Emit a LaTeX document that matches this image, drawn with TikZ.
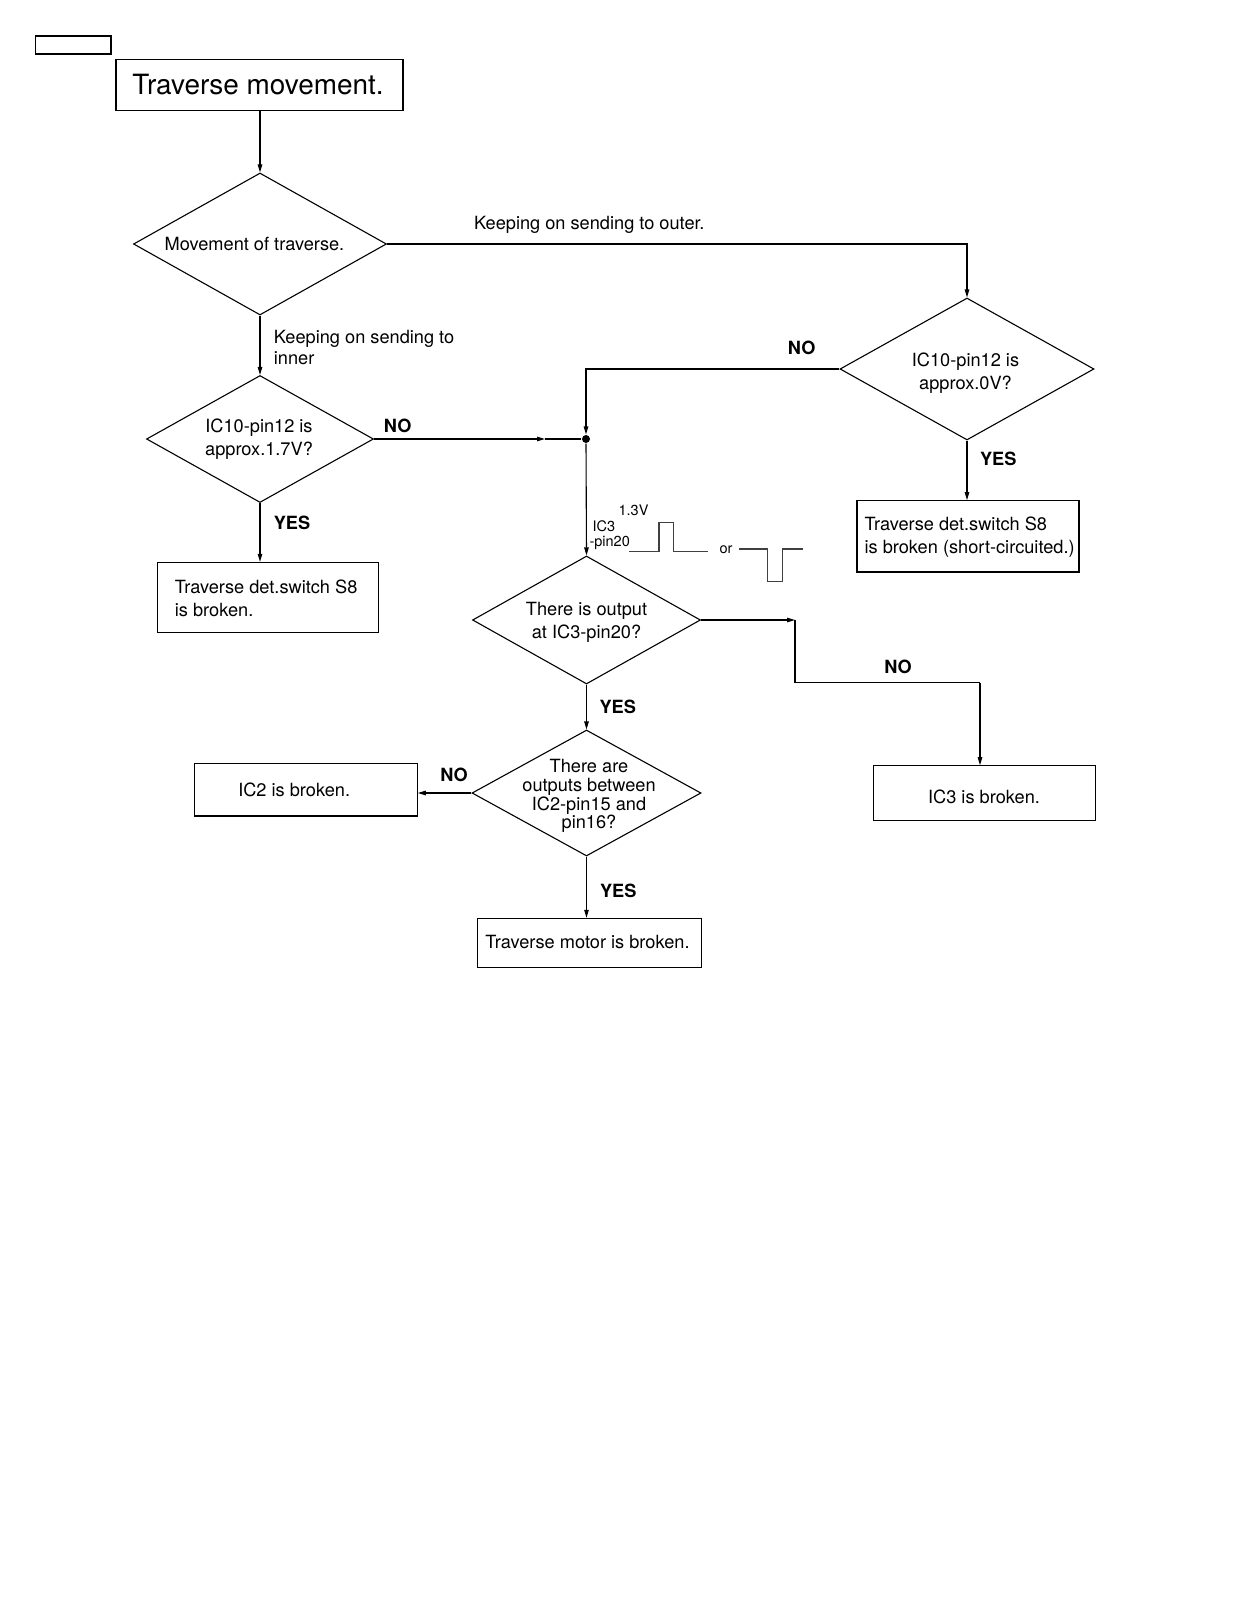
\documentclass[tikz,border=0pt]{standalone}
\usepackage{fontspec}
\setmainfont{TeX Gyre Heros}
\usetikzlibrary{arrows.meta,shapes.geometric}
\begin{document}
\begin{tikzpicture}[x=1pt,y=-1pt,line width=1.1pt,
  box/.style={draw, rectangle, inner sep=0pt},
  dia/.style={draw, diamond, inner sep=0pt, shape aspect=1},
  txt/.style={font=\fontsize{18.2}{22.8}\selectfont, inner sep=0pt, align=center},
  txtl/.style={font=\fontsize{18.2}{22.8}\selectfont, inner sep=0pt, align=left, anchor=west},
  yn/.style={font=\bfseries\fontsize{18.2}{22}\selectfont, inner sep=0pt},
  smalltxt/.style={font=\fontsize{14.5}{16}\selectfont, inner sep=0pt},
  arr/.style={-{Triangle[length=8pt,width=4.5pt]}},
  wave/.style={draw=black!75, line width=1.3pt}]
\fill[white] (0,0) rectangle (1251,1605);
\path[use as bounding box] (0,0) rectangle (1251,1605);

% tag and title
\node[box, line width=1.8pt, minimum width=75.5pt, minimum height=18pt] (tag) at (73.3,45) {};
\node[box, minimum width=287pt, minimum height=51pt] (title) at (259.5,85) {};
\node[font=\fontsize{27.9}{30}\selectfont, inner sep=0pt] (titletxt) at (258,85) {Traverse movement.};

% decisions
\node[dia, minimum width=253pt, minimum height=142pt] (d1) at (260,244) {};
\node[txt] (d1t) at (254.5,244) {Movement of traverse.};

\node[dia, minimum width=254pt, minimum height=142pt] (d2) at (967,369) {};
\node[txt] (d2t) at (965.5,373) {IC10-pin12 is\\approx.0V?};

\node[dia, minimum width=227pt, minimum height=127pt] (d3) at (260,439) {};
\node[txt] (d3t) at (259,439.5) {IC10-pin12 is\\approx.1.7V?};

\node[dia, minimum width=228pt, minimum height=128pt] (d4) at (586.5,620) {};
\node[txt] (d4t) at (586.5,622) {There is output\\at IC3-pin20?};

\node[dia, minimum width=229pt, minimum height=126pt] (d5) at (586.5,793) {};
\node[txt, font=\fontsize{18.2}{18.7}\selectfont] (d5t) at (589,796) {There are\\outputs between\\IC2-pin15 and\\pin16?};

% result boxes
\node[box, minimum width=221pt, minimum height=69.7pt] (s8l) at (267.8,597.2) {};
\node[txtl] (s8lt) at (174.3,598.3) {Traverse det.switch S8\\is broken.};

\node[box, minimum width=222pt, minimum height=71.3pt] (s8r) at (968,536.3) {};
\node[txtl] (s8rt) at (864,537.5) {Traverse det.switch S8\\is broken (short-circuited.)};

\node[box, minimum width=222.4pt, minimum height=54.3pt] (ic3) at (984.5,792.9) {};
\node[txt] (ic3t) at (984,796.7) {IC3 is broken.};

\node[box, minimum width=222.4pt, minimum height=52.4pt] (ic2) at (306,789.8) {};
\node[txt] (ic2t) at (294.2,789.5) {IC2 is broken.};

\node[box, minimum width=223.3pt, minimum height=49.3pt] (motor) at (589.4,943) {};
\node[txt] (motort) at (587.5,941.5) {Traverse motor is broken.};

% junction
\node[circle, fill, inner sep=0pt, minimum size=8pt] (jn) at (586,439) {};
\coordinate (noarr) at (545,439);
\coordinate (c4a) at (795,620);
\coordinate (c4b) at (980,682.7);

% connectors
\draw[arr] (d1.north |- title.south) -- (d1.north);
\draw[arr] (d1.east) -| (d2.north);
\draw[arr] (d1.south) -- (d3.north);
\draw[arr] (d2.west) -| (jn.north);
\draw[arr] (d3.east) -- (noarr);
\draw (noarr) -- (jn.west);
\draw[arr] (jn.south) -- (d4.north);
\draw[arr] (d2.south) -- (d2.south |- s8r.north);
\draw[arr] (d3.south) -- (d3.south |- s8l.north);
\draw[arr] (d4.east) -- (c4a);
\draw (c4a) |- (c4b);
\draw[arr] (c4b) -- (c4b |- ic3.north);
\draw[arr] (d4.south) -- (d5.north);
\draw[arr] (d5.west) -- (d5.west -| ic2.east);
\draw[arr] (d5.south) -- (d5.south |- motor.north);

% connector labels
\node[txtl] (lblout) at (473.5,224.5) {Keeping on sending to outer.};
\node[txtl, font=\fontsize{18.2}{21.6}\selectfont] (lblin) at (273.3,347.5) {Keeping on sending to\\inner};
\node[yn] (no2) at (801.7,348.3) {NO};
\node[yn] (yes2) at (998.3,459.3) {YES};
\node[yn] (no3) at (397.7,426) {NO};
\node[yn] (yes3) at (292,523.3) {YES};
\node[yn] (no4) at (898,667.3) {NO};
\node[yn] (yes4) at (617.7,706.7) {YES};
\node[yn] (no5) at (454,775) {NO};
\node[yn] (yes5) at (618.3,890.7) {YES};

% waveform annotation
\node[smalltxt] (v13) at (633.5,510) {1.3V};
\node[smalltxt, anchor=west] (ic3l) at (592,526) {IC3};
\node[smalltxt, anchor=west] (pinl) at (589,543) {-pin20};
\node[smalltxt] (orl) at (726,550) {or};
\draw[wave] (629,551.7) -- (659,551.7) -- (659,522.7) -- (673.3,522.7) -- (673.3,551.7) -- (708.3,551.7);
\draw[wave] (739.3,549) -- (767.7,549) -- (767.7,581.7) -- (782.3,581.7) -- (782.3,549) -- (803.3,549);
\end{tikzpicture}
\end{document}
